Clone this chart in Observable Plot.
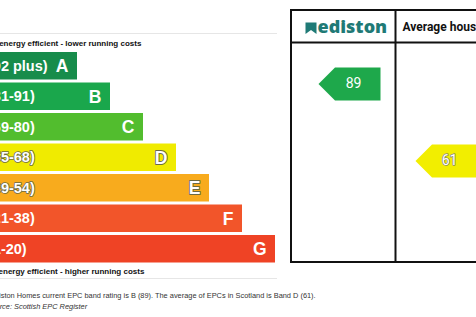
<!DOCTYPE html>
<html>
<head>
<meta charset="utf-8">
<script src="https://cdn.jsdelivr.net/npm/d3@7"></script>
<script src="https://cdn.jsdelivr.net/npm/@observablehq/plot@0.6"></script>
<style>
  html, body { margin: 0; padding: 0; background: #fff; }
  #chart svg { display: block; }
</style>
</head>
<body>
<div id="chart"></div>
<script>
// ---- data ----
const bands = ["A", "B", "C", "D", "E", "F", "G"];
const ranges = ["(92 plus)", "(81-91)", "(69-80)", "(55-68)", "(39-54)", "(21-38)", "(1-20)"];
const bandColors = ["#178c4b", "#1aa74c", "#52bd2e", "#f0eb00", "#f8ab1d", "#f2552a", "#ef4325"];
const columns = ["ediston", "Average house in Scotland"];
const ratings = [89, 61];
const ratingColors = ["#1ea84b", "#f2ee00"];
const topNote = "Very energy efficient - lower running costs";
const bottomNote = "Not energy efficient - higher running costs";
const captionLines = [
  "Ediston Homes current EPC band rating is B (89). The average of EPCs in Scotland is Band D (61).",
  "Source: Scottish EPC Register"
];

// ---- layout helpers ----
const W = 476, H = 317;
const rowTop = i => 52 + i * 30.5;
const rowH = 27.5;
const barEnd = i => 77 + i * 33;
const lightBand = b => b === "D" || b === "E";
const ratingY = s => 83.5 + (89 - s) * 2.75;   // rating scale position
const colLeft = [291, 395];
const tipOffset = [27, 20];
const arrowRight = [380, 520];
const tbl = {x1: 291, x2: 520, y1: 10, y2: 262, head: 42};

const bars = bands.map((b, i) => ({band: b, range: ranges[i], color: bandColors[i], i}));

const arrowPts = [];
ratings.forEach((r, k) => {
  const tip = colLeft[k] + tipOffset[k], y = ratingY(r), h = 16.5, sh = 16.5;
  [[tip, y], [tip + sh, y - h], [arrowRight[k], y - h], [arrowRight[k], y + h], [tip + sh, y + h]]
    .forEach(([x, yy]) => arrowPts.push({k, x, y: yy, color: ratingColors[k]}));
});
const arrowLabels = ratings.map((r, k) => ({
  r, k,
  x: colLeft[k] + tipOffset[k] + (k === 0 ? 35 : 34),
  y: ratingY(r)
}));

const logoPts = [[305, 22], [316, 22], [316, 33.5], [310.5, 29.5], [305, 33.5]].map(([x, y]) => ({x, y}));

const sans = "'Liberation Sans', Arial, sans-serif";

const plot = Plot.plot({
  width: W, height: H,
  margin: 0,
  x: {domain: [0, W], range: [0, W], axis: null},
  y: {domain: [0, H], range: [0, H], axis: null},
  style: {fontFamily: sans, background: "#fff"},
  marks: [
    // faint separator lines
    Plot.ruleY([33, 278], {x1: 0, x2: 277, stroke: "#e6e6e6", strokeWidth: 1}),
    // notes
    Plot.text([topNote], {x: -20.5, y: 43, text: d => d, textAnchor: "start", fontSize: 8, fontWeight: "bold", fill: "#111"}),
    Plot.text([bottomNote], {x: -17.5, y: 270.5, text: d => d, textAnchor: "start", fontSize: 8, fontWeight: "bold", fill: "#111"}),
    // bars
    Plot.rect(bars, {x1: -60, x2: d => barEnd(d.i), y1: d => rowTop(d.i), y2: d => rowTop(d.i) + rowH, fill: "color"}),
    // range labels
    Plot.text(bars, {x: -12.5, y: d => rowTop(d.i) + rowH / 2, text: "range", textAnchor: "start",
      fontSize: 14.5, fontWeight: "bold", fill: "#fff",
      stroke: d => lightBand(d.band) ? "#6a6a45" : "none", strokeWidth: 1.6, paintOrder: "stroke"}),
    // band letters
    Plot.text(bars, {x: d => barEnd(d.i) - 9, y: d => rowTop(d.i) + rowH / 2 + 0.5, text: "band", textAnchor: "end",
      fontSize: 17.5, fontWeight: "bold", fill: "#fff",
      stroke: d => lightBand(d.band) ? "#6a6a45" : "none", strokeWidth: 1.8, paintOrder: "stroke"}),
    // table
    Plot.rect([tbl], {x1: "x1", x2: "x2", y1: "y1", y2: "y2", fill: "none", stroke: "#111", strokeWidth: 2}),
    Plot.ruleY([tbl.head], {x1: tbl.x1, x2: tbl.x2, stroke: "#111", strokeWidth: 2}),
    Plot.ruleX([colLeft[1]], {y1: tbl.y1, y2: tbl.y2, stroke: "#111", strokeWidth: 2}),
    // header: logo + title
    Plot.line(logoPts, {x: "x", y: "y", fill: "#1f7a76", stroke: "none", curve: "linear-closed"}),
    Plot.text([columns[0]], {x: 317, y: 27, text: d => d, textAnchor: "start", fontSize: 18, fontWeight: 800,
      fontFamily: "'Open Sans', sans-serif", fill: "#1f7a76"}),
    Plot.text([columns[1]], {x: 402, y: 27, text: d => d, textAnchor: "start", fontSize: 12, fontWeight: "bold",
      fontFamily: "Roboto, sans-serif", fill: "#111"}),
    // rating arrows
    Plot.line(arrowPts, {x: "x", y: "y", z: "k", fill: "color", stroke: "none", curve: "linear-closed"}),
    Plot.text(arrowLabels, {x: "x", y: "y", text: d => String(d.r), fontSize: 14, fontFamily: "Roboto, Arial, sans-serif",
      fill: "#fff", stroke: d => d.k === 1 ? "#8a8a6a" : "none", strokeWidth: 1.6, paintOrder: "stroke"}),
    // caption
    Plot.text(captionLines.slice(0, 1), {x: -10.5, y: 295, text: d => d, textAnchor: "start", fontSize: 7.4, fill: "#333"}),
    Plot.text(captionLines.slice(1), {x: -14, y: 306.5, text: d => d, textAnchor: "start", fontSize: 7.4, fontStyle: "italic", fill: "#333"})
  ]
});
document.getElementById("chart").appendChild(plot);
</script>
</body>
</html>
